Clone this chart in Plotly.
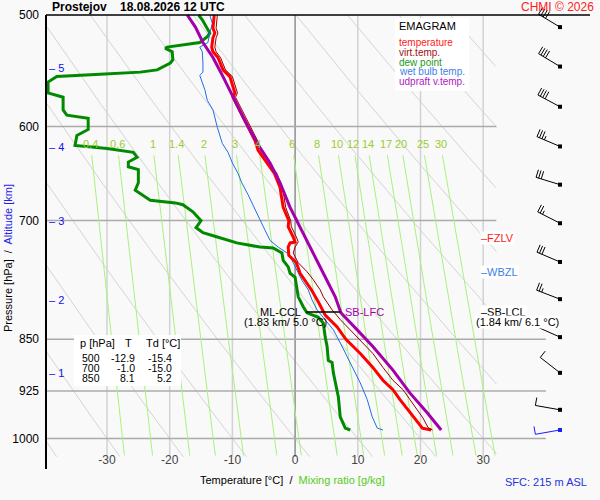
import numpy as np
import plotly.graph_objects as go

# sounding: pressure [hPa] / temperature [deg C]
temp_p = [500, 511, 515, 519, 527, 531, 536, 547, 553, 568, 572, 579, 587, 600, 614, 624, 637, 648, 663, 674,
          685, 700, 707, 719, 725, 726, 731, 741, 750, 763, 775, 784, 801, 817, 833, 850, 870, 890, 909, 923,
          938, 954, 973, 983, 986]
temp_t = [-12.9, -13.1, -12.8, -13.1, -13.3, -13.1, -12.3, -11.5, -10.4, -9.6, -9.9, -9.3, -8.5, -7.5, -6.4,
          -5.9, -4.5, -3.3, -2.4, -2.1, -1.9, -1.0, -1.1, -0.3, 0.0, -0.8, -1.1, -1.0, 0.2, 0.8, 1.9, 2.6, 3.8,
          4.8, 6.7, 8.1, 10.4, 12.4, 14.0, 15.6, 16.7, 18.0, 19.5, 20.3, 21.7]

virt_p = [500, 511, 515, 519, 527, 531, 536, 547, 553, 568, 572, 579, 587, 600, 614, 624, 637, 648, 663, 674,
          685, 700, 707, 719, 725, 731, 738, 750, 761, 771, 784, 793, 810, 823, 837, 850, 870, 890, 909, 923,
          938, 954, 967, 982, 986]
virt_t = [-12.4, -12.6, -12.3, -12.6, -12.8, -12.6, -11.9, -11.1, -10.0, -9.2, -9.5, -8.9, -8.1, -7.1, -6.0,
          -5.5, -4.1, -2.9, -2.0, -1.7, -1.5, -0.7, -0.6, 0.2, 0.5, 0.0, -0.3, 0.5, 1.9, 2.9, 4.0, 4.5, 5.9,
          7.2, 8.8, 10.2, 12.4, 14.0, 15.6, 17.2, 18.3, 19.5, 20.4, 21.2, 21.9]

dew_p = [500, 504, 515, 518, 523, 527, 528, 531, 538, 541, 547, 549, 551, 552, 553, 558, 568, 572, 584, 589,
         592, 603, 609, 619, 622, 626, 631, 636, 641, 644, 658, 666, 677, 680, 682, 690, 700, 708, 714, 719,
         726, 731, 732, 738, 747, 755, 763, 768, 780, 793, 806, 814, 820, 828, 847, 860, 880, 883, 898, 934,
         965, 983, 986]
dew_t = [-15.4, -14.8, -13.6, -14.0, -15.2, -20.4, -20.7, -19.6, -19.5, -19.9, -22.0, -24.7, -31.1, -34.3,
         -38.0, -39.4, -39.4, -37.0, -37.0, -36.4, -33.0, -33.0, -34.8, -35.1, -30.0, -25.8, -25.2, -26.6,
         -26.6, -25.0, -25.0, -25.5, -23.1, -19.1, -17.9, -16.3, -15.0, -15.8, -14.7, -12.4, -9.3, -5.6, -3.5,
         -2.1, -1.9, -1.1, -0.8, 0.0, 0.3, 0.5, 1.3, 1.9, 3.7, 4.5, 4.8, 5.1, 5.3, 5.9, 6.1, 6.9, 7.2, 8.0, 8.8]

wet_p = [500, 507, 515, 523, 527, 531, 541, 549, 552, 559, 565, 575, 584, 601, 617, 626, 637, 648, 658, 671,
         682, 699, 711, 723, 731, 738, 747, 759, 772, 784, 797, 810, 823, 837, 855, 875, 894, 913, 938, 965,
         983, 986]
wet_t = [-13.6, -13.2, -13.6, -13.9, -15.2, -14.8, -14.7, -14.7, -15.2, -14.8, -14.4, -14.0, -13.1, -12.4,
         -11.6, -10.7, -10.0, -9.1, -8.5, -7.5, -6.7, -5.6, -4.8, -4.0, -2.7, -1.3, -0.5, 0.3, 1.1, 2.1, 2.7,
         3.5, 4.8, 6.1, 7.2, 8.3, 9.3, 10.4, 11.5, 12.3, 13.1, 14.0]

parcel_p = [500, 510, 523, 536, 553, 572, 591, 607, 621, 637, 658, 685, 696, 714, 738, 763, 793, 814, 837,
            860, 894, 928, 959, 986]
parcel_t = [-17.2, -15.9, -14.7, -13.1, -11.5, -9.9, -8.3, -6.9, -5.6, -4.0, -2.4, -0.8, 0.0, 1.3, 2.9, 4.5,
            6.4, 7.3, 9.9, 12.4, 15.6, 18.3, 21.1, 23.3]

# wind profile
wind_p = [510, 544, 581, 620, 660, 703, 749, 796, 847, 898, 954, 986]
wind_dir = [301, 301, 298, 293, 287, 297, 293, 291, 294, 308, 280, 260]
wind_kt = [40, 40, 40, 35, 30, 25, 30, 25, 15, 10, 10, 10]

# altitude marks (km) and the pressure where they sit
alt_km = [1, 2, 3, 4, 5]
alt_p = [898, 797, 701, 621, 545]

# levels
fzlv_p = 720
wbzl_p = 761
lcl_p = 813
ccl_t = [1.8, 7.2]

# little table
tab_p = [500, 700, 850]
tab_t = [-12.9, -1.0, 8.1]
tab_td = [-15.4, -15.0, 5.2]

# background diagram lines
isotherms = [-30, -20, -10, 0, 10, 20, 30]
isobars = [600, 700, 850, 925, 1000]
dry_theta = list(range(-40, 101, 10))   # deg C at 1000 hPa
mix_ratios = [0.4, 0.6, 1, 1.4, 2, 3, 4, 6, 8, 10, 12, 14, 17, 20, 25, 30]

FONT = "Liberation Sans, Arial, sans-serif"
BG = "#f9f9f9"

# page geometry in px
W, H = 600, 500
ML, MR, MT, MB = 44, 10, 0, 31
PW, PH = W - ML - MR, H - MT - MB
DEG_PX = 6.27        # px per deg C
LNP_PX = 611.1       # px per ln(p)
Y500 = 15            # px row of 500 hPa
T_MIN = -30 - (107 - ML) / DEG_PX
T_MAX = T_MIN + PW / DEG_PX
T_AXIS = -30 - (107 - 46) / DEG_PX
P_TOPR = 500 * np.exp(-Y500 / LNP_PX)
P_BOT = 500 * np.exp((PH - Y500) / LNP_PX)


def tx(x):
    return T_MIN + (x - ML) / DEG_PX


def yp(p):
    return Y500 + LNP_PX * np.log(p / 500.0)


def px(x):
    return (x - ML) / PW


def py(y):
    return (H - MB - y) / PH


fig = go.Figure()


def add_line(xs, ys, color, width):
    fig.add_trace(go.Scatter(x=xs, y=ys, mode='lines', line=dict(color=color, width=width),
                             hoverinfo='skip', showlegend=False))


# dry adiabats
p_fine = np.linspace(500, 1030, 400)
ax, ay = [], []
for th in dry_theta:
    t = (th + 273.15) * (p_fine / 1000.0) ** 0.2857 - 273.15
    m = (t >= T_AXIS) & (t <= 32.2)
    if m.any():
        ax += list(t[m]) + [None]
        ay += list(p_fine[m]) + [None]
add_line(ax, ay, '#d4d4d4', 1)

# isotherms
ix, iy = [], []
for t in isotherms:
    if t != 0:
        ix += [t, t, None]
        iy += [500, 1030, None]
add_line(ix, iy, '#d2d2d2', 1.5)
add_line([0, 0], [500, 1030], '#8f8f8f', 1.5)

# isobars
bar_end = {600: 32.1, 700: 32.1, 850: 40, 925: 40, 1000: 40}
bx_, by_ = [], []
for p in isobars:
    bx_ += [T_AXIS, bar_end[p], None]
    by_ += [p, p, None]
add_line(bx_, by_, '#ababab', 1.5)

# mixing ratio lines
p_mr = np.linspace(629, 1028, 120)
mx, my = [], []
for w in mix_ratios:
    e = w * p_mr / (622.0 + w)
    a = np.log(e / 6.112)
    t = 243.5 * a / (17.67 - a)
    mx += list(t) + [None]
    my += list(p_mr) + [None]
add_line(mx, my, '#a8f27c', 1)

# profiles
add_line(dew_t, dew_p, '#008a00', 3)
add_line(wet_t, wet_p, '#1f6fe5', 1)
add_line(temp_t, temp_p, '#ff0000', 3)
add_line(virt_t, virt_p, '#990000', 1)
add_line(parcel_t, parcel_p, '#a300ac', 3)
add_line(ccl_t, [lcl_p, lcl_p], '#000000', 1.5)

# wind barbs
BARB_T = tx(560)
STAFF = 25
for i, (p, d, s) in enumerate(zip(wind_p, wind_dir, wind_kt)):
    r = np.radians(d)
    ux, uy = np.sin(r), -np.cos(r)
    nx, ny = -uy, ux

    def to_data(dx, dy):
        return BARB_T + dx / DEG_PX, p * np.exp(dy / LNP_PX)

    segs = [[(0, 0), (STAFF * ux, STAFF * uy)]]
    pos = STAFF
    for _ in range(int(s // 10)):
        segs.append([(pos * ux, pos * uy), (pos * ux + 8 * nx, pos * uy + 8 * ny)])
        pos -= 2.7
    if s % 10 >= 5:
        segs.append([(pos * ux, pos * uy), (pos * ux + 4 * nx, pos * uy + 4 * ny)])
    wx, wy = [], []
    for seg in segs:
        for dx, dy in seg:
            a, b = to_data(dx, dy)
            wx.append(a)
            wy.append(b)
        wx.append(None)
        wy.append(None)
    col = '#1a1aff' if i == len(wind_p) - 1 else '#000000'
    add_line(wx, wy, col, 1)
    fig.add_trace(go.Scatter(x=[BARB_T], y=[p], mode='markers',
                             marker=dict(symbol='square', size=4, color=col),
                             hoverinfo='skip', showlegend=False))

# frame: pressure axis and top line
add_line([T_AXIS, T_AXIS], [500, P_BOT], '#000000', 2)
add_line([T_AXIS, tx(590)], [500, 500], '#000000', 1.5)

ann = []


def text(x, y, s, size=11, color='black', anchor='left', bg=None, bold=False, angle=0):
    d = dict(x=px(x), y=py(y), xref='paper', yref='paper', text=('<b>%s</b>' % s) if bold else s,
             showarrow=False, xanchor=anchor, yanchor='middle', textangle=angle,
             font=dict(family=FONT, size=size, color=color))
    if bg:
        d.update(bgcolor=bg, borderpad=0)
    ann.append(d)


text(50, 7, 'Prostejov\u00a0\u00a0\u00a0\u00a018.08.2026 12 UTC', size=12, bold=True)
text(596, 7, 'CHMI \u00a9 2026', size=12, color='#ff2020', anchor='right')

# legend box
text(397, 26, 'EMAGRAM', size=11)
leg = [('temperature', '#ff1a1a'), ('virt.temp.', '#a01010'), ('dew point', '#229922'),
       ('wet bulb temp.', '#3f80e6'), ('udpraft v.temp.', '#b020c0')]
for k, (lab, col) in enumerate(leg):
    text(397, 42 + 10 * k, lab, size=10, color=col)

# mixing ratio labels
for w in mix_ratios:
    e = w * 618 / (622.0 + w)
    a = np.log(e / 6.112)
    t = 243.5 * a / (17.67 - a)
    ann.append(dict(x=t, y=np.log10(618), xref='x', yref='y', text='%g' % w, showarrow=False,
                    font=dict(family=FONT, size=11, color='#99cc33')))

# altitude marks
for km, p in zip(alt_km, alt_p):
    text(47, yp(p), '\u2013 %d' % km, size=11, color='#1010ee')

# table
text(78, 343, 'p [hPa]')
text(128, 343, 'T', anchor='center')
text(144, 343, 'Td [\u00b0C]')
for k, (p, t, d) in enumerate(zip(tab_p, tab_t, tab_td)):
    yy = 358 + 10 * k
    text(102, yy, '%d' % p, anchor='right', size=10.5)
    text(137, yy, '%.1f' % t, anchor='right', size=10.5)
    text(174, yy, '%.1f' % d, anchor='right', size=10.5)

# level labels
text(480, yp(fzlv_p), '\u2013FZLV', color='#ff1a1a', bg='white')
text(480, yp(wbzl_p), '\u2013WBZL', color='#3f80e6', bg='white')
text(480, yp(lcl_p), '\u2013SB-LCL', bg='white')
text(517, yp(lcl_p) + 10, '(1.84 km/ 6.1 \u00b0C)', anchor='center', bg='white')
text(280, yp(lcl_p), 'ML-CCL', anchor='center')
text(285, yp(lcl_p) + 10, '(1.83 km/ 5.0 \u00b0C)', anchor='center')
text(343, yp(lcl_p), 'SB-LFC', color='#a300ac')

# axis titles
text(292, 480, 'Temperature [\u00b0C]\u00a0 /\u00a0 <span style="color:#55cc22">Mixing ratio [g/kg]</span>',
     anchor='center')
text(8, 258, 'Pressure [hPa]\u00a0 /\u00a0 <span style="color:#2222ee">Altitude [km]</span>',
     anchor='center', angle=-90)
text(589, 482, 'SFC: 215 m ASL', color='#2233dd', anchor='right')

shapes = [
    dict(type='rect', xref='paper', yref='paper', x0=px(395), x1=px(469), y0=py(91), y1=py(18),
         fillcolor='white', line=dict(width=0), layer='above'),
    dict(type='rect', xref='paper', yref='paper', x0=px(74), x1=px(181), y0=py(386), y1=py(335),
         fillcolor='white', line=dict(width=0), layer='above'),
]

fig.update_layout(
    width=W, height=H, margin=dict(l=ML, r=MR, t=MT, b=MB),
    paper_bgcolor=BG, plot_bgcolor=BG, showlegend=False,
    font=dict(family=FONT, size=12, color='black'),
    xaxis=dict(range=[T_MIN, T_MAX], showgrid=False, zeroline=False, showline=False,
               tickvals=isotherms, ticktext=[str(v) for v in isotherms], ticks='',
               ticklabelposition='inside', tickfont=dict(size=12)),
    yaxis=dict(type='log', range=[np.log10(P_BOT), np.log10(P_TOPR)], showgrid=False, zeroline=False,
               showline=False, tickvals=[500] + isobars, ticktext=[str(v) for v in [500] + isobars],
               ticks='', ticklabelstandoff=4, tickfont=dict(size=12)),
    annotations=ann, shapes=shapes,
)

# page has a default 8px body margin; drop it so the figure sits at the window corner
fig.write_html("out.html", config={'displayModeBar': False},
               post_script="document.body.style.margin='0';document.body.style.overflow='hidden';")
